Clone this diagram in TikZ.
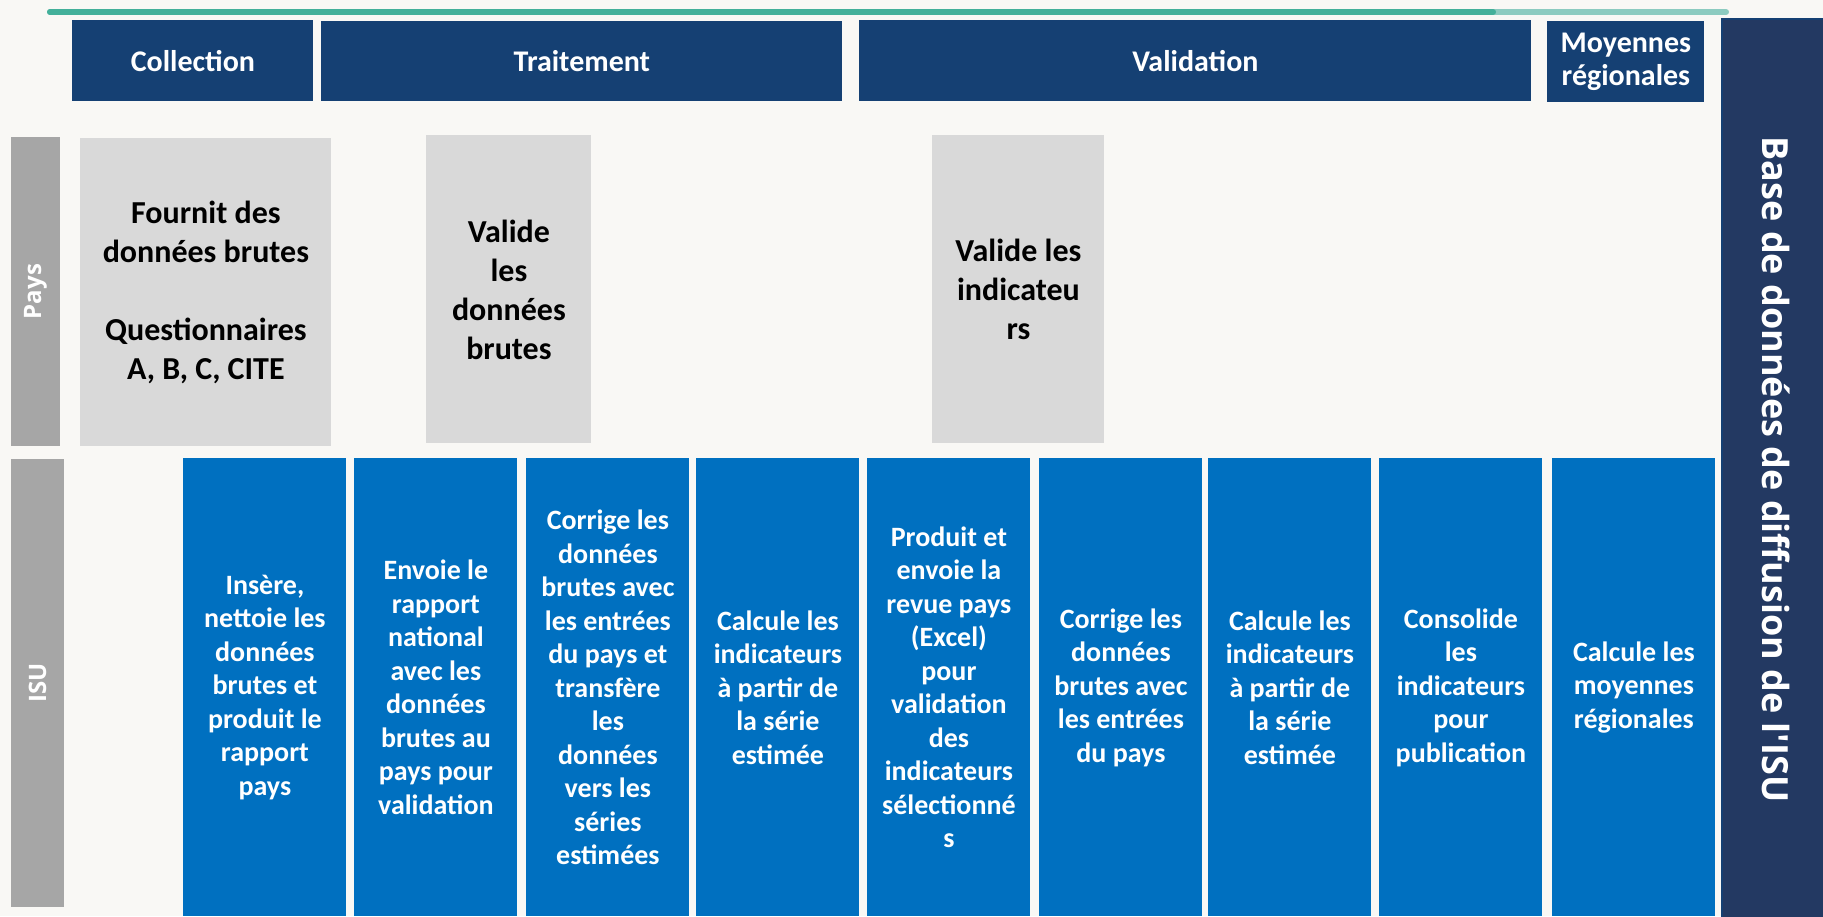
\documentclass[tikz,border=0pt]{standalone}
\usepackage{fontspec}
\usepackage{tikz}
\newfontfamily\carlito{Carlito}
\newfontfamily\opensans{Open Sans}
\definecolor{bgcol}{RGB}{249,248,245}
\definecolor{hdrblue}{RGB}{21,64,115}
\definecolor{isublue}{RGB}{0,112,192}
\definecolor{basenavy}{RGB}{35,57,98}
\definecolor{lanegray}{RGB}{166,166,166}
\definecolor{boxgray}{RGB}{217,217,217}
\definecolor{tealline}{RGB}{67,176,154}
\definecolor{tealpale}{RGB}{140,203,192}

\begin{document}
\begin{tikzpicture}[x=0.5pt,y=0.5pt,yscale=-1,xscale=1,
  hdr/.style={fill=hdrblue,text=white,anchor=north west,inner sep=0pt,align=center,font=\carlito\bfseries\fontsize{15}{16.5}\selectfont},
  paysbox/.style={fill=boxgray,text=black,anchor=north west,inner sep=0pt,align=center,minimum height=154pt,font=\carlito\bfseries\fontsize{16}{19.5}\selectfont},
  isubox/.style={fill=isublue,text=white,anchor=north west,inner sep=0pt,align=center,minimum width=81.5pt,minimum height=229pt,font=\carlito\bfseries\fontsize{14}{16.75}\selectfont},
  lane/.style={fill=lanegray,text=white,rotate=90,inner sep=0pt,font=\opensans\bfseries\fontsize{12}{14}\selectfont}]
\useasboundingbox (0,0) rectangle (1823,916);
\fill [bgcol] (0,0) rectangle (1823,916);

%Top line
\draw [tealpale,line width=3pt,line cap=round] (50,12) -- (1726,12);
\draw [tealline,line width=3pt,line cap=round] (50,12) -- (1493,12);

%Phase headers
\node [hdr,minimum width=120.5pt,minimum height=40.5pt] (collection) at (72,20) {Collection};
\node [hdr,minimum width=260.5pt,minimum height=40pt] (traitement) at (321,21) {Traitement};
\node [hdr,minimum width=336pt,minimum height=40.5pt] (validation) at (859,20) {Validation};
\node [hdr,minimum width=78.5pt,minimum height=40.5pt] (moyennes) at (1547,21) {Moyennes\\régionales};

%Database column
\node [fill=basenavy,draw=hdrblue,line width=0.6pt,text=white,rotate=-90,inner sep=0pt,minimum width=450.5pt,minimum height=54pt,font=\opensans\bfseries\fontsize{18}{21}\selectfont] (base) at (1776,469.5) {Base de données de diffusion de l'ISU};

%Lane labels
\node [lane,minimum width=154.5pt,minimum height=24.5pt] (pays) at (35.5,291.5) {Pays};
\node [lane,minimum width=224pt,minimum height=26.5pt] (isu) at (37.5,683) {ISU};

%Pays row
\node [paysbox,minimum width=125.5pt] (fournit) at (80,138) {Fournit des\\données brutes\\[19.5pt]Questionnaires\\A, B, C, CITE};
\node [paysbox,minimum width=82.5pt] (validebrutes) at (426,135) {Valide\\les\\données\\brutes};
\node [paysbox,minimum width=86pt] (valideind) at (932,135) {Valide les\\indicateu\\rs};

%ISU row
\node [isubox] (insere) at (183,458) {Insère,\\nettoie les\\données\\brutes et\\produit le\\rapport\\pays};
\node [isubox] (envoie) at (354,458) {Envoie le\\rapport\\national\\avec les\\données\\brutes au\\pays pour\\validation};
\node [isubox] (corrige) at (526,458) {Corrige les\\données\\brutes avec\\les entrées\\du pays et\\transfère\\les\\données\\vers les\\séries\\estimées};
\node [isubox] (calcule) at (696,458) {Calcule les\\indicateurs\\à partir de\\la série\\estimée};
\node [isubox] (produit) at (867,458) {Produit et\\envoie la\\revue pays\\(Excel)\\pour\\validation\\des\\indicateurs\\sélectionné\\s};
\node [isubox] (corrigepays) at (1039,458) {Corrige les\\données\\brutes avec\\les entrées\\du pays};
\node [isubox] (recalcule) at (1208,458) {Calcule les\\indicateurs\\à partir de\\la série\\estimée};
\node [isubox] (consolide) at (1379,458) {Consolide\\les\\indicateurs\\pour\\publication};
\node [isubox] (regionales) at (1552,458) {Calcule les\\moyennes\\régionales};

\end{tikzpicture}
\end{document}
